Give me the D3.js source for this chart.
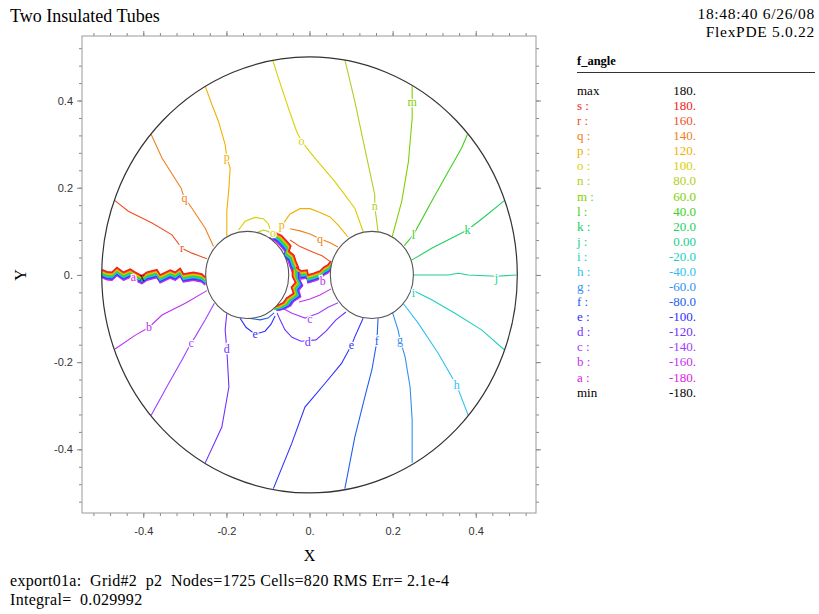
<!DOCTYPE html>
<html lang="en">
<head>
<meta charset="UTF-8">
<title>Two Insulated Tubes</title>
<script src="https://d3js.org/d3.v7.min.js"></script>
<style>
  body { margin: 0; background: #fff; }
  svg { display: block; }
  .serif { font-family: 'Liberation Serif', 'Times New Roman', serif; }
  .tick text { font-family: 'Liberation Sans', Arial, sans-serif; font-size: 11px; fill: #333; }
  .tick line { stroke: #888; }
</style>
</head>
<body>
<svg width="819" height="614"></svg>
<script>
// contour levels of f_angle
const levels = ["a","b","c","d","e","f","g","h","i","j","k","l","m","n","o","p","q","r","s"];
const levelValues = ["-180.","-160.","-140.","-120.","-100.","-80.0","-60.0","-40.0","-20.0","0.00",
                     "20.0","40.0","60.0","80.0","100.","120.","140.","160.","180."];
const levelColors = ["#e020e0","#c030f0","#a040ff","#7030ff","#3030ff","#2060f0","#3090f0","#30c0f0","#20d0c0","#20d090",
                     "#20d060","#40d020","#80d000","#b0d020","#d8d000","#f0b000","#f08020","#f05020","#f02020"];
const maxValue = "180.", minValue = "-180.";

const xTicks = [-0.4, -0.2, 0, 0.2, 0.4];
const xTickLabels = ["-0.4", "-0.2", "0.", "0.2", "0.4"];
const yTicks = [-0.4, -0.2, 0, 0.2, 0.4];
const yTickLabels = ["-0.4", "-0.2", "0.", "0.2", "0.4"];

// geometry
const outerRadius = 0.5;
const tubeCenters = [[-0.15, 0], [0.15, 0]];
const tubeRadius = 0.1;

// contour lines (x, y)
const lineB = [[-0.247,-0.036],[-0.299,-0.065],[-0.355,-0.092],[-0.386,-0.120],[-0.419,-0.138],[-0.468,-0.170]];
const lineC = [[-0.229,-0.065],[-0.251,-0.103],[-0.275,-0.142],[-0.285,-0.156],[-0.307,-0.195],[-0.339,-0.249],[-0.381,-0.322]];
const lineD = [[-0.199,-0.088],[-0.203,-0.126],[-0.199,-0.171],[-0.194,-0.257],[-0.211,-0.349],[-0.251,-0.431]];
const lineE = [[0.129,-0.0995],[0.109,-0.142],[0.101,-0.161],[0.077,-0.203],[0.037,-0.249],[-0.011,-0.303],[-0.043,-0.387],[-0.087,-0.490]];
const lineF = [[0.165,-0.0995],[0.162,-0.153],[0.150,-0.218],[0.133,-0.280],[0.109,-0.372],[0.085,-0.490]];
const lineG = [[0.199,-0.084],[0.213,-0.126],[0.218,-0.149],[0.230,-0.188],[0.242,-0.257],[0.247,-0.333],[0.247,-0.431]];
const lineH = [[0.225,-0.065],[0.262,-0.111],[0.310,-0.180],[0.354,-0.253],[0.382,-0.322]];
const lineI = [[0.246,-0.034],[0.294,-0.057],[0.350,-0.088],[0.414,-0.126],[0.468,-0.171]];
const lineJ = [[0.250,0],[0.334,0],[0.358,0.004],[0.382,0],[0.450,-0.003],[0.498,0]];
const lineK = [[0.246,0.034],[0.294,0.061],[0.366,0.096],[0.380,0.103],[0.422,0.134],[0.468,0.170]];
const lineL = [[0.228,0.067],[0.250,0.092],[0.294,0.169],[0.334,0.237],[0.366,0.291],[0.380,0.322]];
const lineM = [[0.199,0.088],[0.222,0.169],[0.238,0.260],[0.247,0.360],[0.247,0.396],[0.247,0.433]];
const lineN = [[0.165,0.0995],[0.157,0.157],[0.157,0.184],[0.138,0.268],[0.109,0.398],[0.085,0.494]];
const lineO = [[-0.089,0.494],[-0.075,0.452],[-0.051,0.383],[-0.031,0.329],[-0.019,0.306],[-0.003,0.287],[0.013,0.268],[0.061,0.214],[0.109,0.153],[0.129,0.0995]];
const lineP = [[-0.251,0.433],[-0.235,0.391],[-0.219,0.352],[-0.203,0.299],[-0.199,0.270],[-0.191,0.245],[-0.194,0.199],[-0.199,0.146],[-0.199,0.088]];
const lineQ = [[-0.381,0.322],[-0.355,0.268],[-0.309,0.199],[-0.301,0.176],[-0.283,0.153],[-0.251,0.107],[-0.231,0.065]];
const lineR = [[-0.469,0.171],[-0.436,0.146],[-0.379,0.119],[-0.331,0.092],[-0.307,0.061],[-0.283,0.050],[-0.247,0.037]];

// short contours between the tubes
const loopN = [[-0.125,0.098],[-0.111,0.103],[-0.099,0.0995],[-0.0925,0.0935]];
const loopO = [[-0.171,0.103],[-0.155,0.123],[-0.131,0.132],[-0.111,0.129],[-0.099,0.117],[-0.095,0.106]];
const innerP = [[-0.0637,0.117],[-0.0469,0.140],[-0.0228,0.152],[0.0012,0.152],[0.0252,0.143],[0.0493,0.133],[0.0685,0.115],[0.0925,0.087]];
const innerQ = [[-0.0469,0.106],[-0.0228,0.101],[0.0012,0.094],[0.0252,0.083],[0.0493,0.074],[0.0685,0.064]];
const innerR = [[-0.0469,0.080],[-0.0228,0.065],[0.0091,0.052],[0.030,0.044],[0.0493,0.031]];
const innerB = [[-0.0252,-0.062],[0.0012,-0.055],[0.0252,-0.046],[0.0517,-0.032]];
const innerC = [[-0.0661,-0.076],[-0.0421,-0.088],[-0.0108,-0.099],[0.0212,-0.088],[0.0445,-0.074],[0.0685,-0.064]];
const innerD = [[-0.0781,-0.087],[-0.0709,-0.103],[-0.0589,-0.126],[-0.0421,-0.143],[-0.0204,-0.152],[0.0156,-0.149],[0.0397,-0.129],[0.0637,-0.103],[0.0877,-0.085]];
const innerE = [[-0.167,-0.099],[-0.153,-0.120],[-0.131,-0.136],[-0.107,-0.129],[-0.0925,-0.113],[-0.0829,-0.094]];
const innerF = [[-0.143,-0.100],[-0.119,-0.103],[-0.0998,-0.099],[-0.0853,-0.087]];

const contourLines = [
  ["b", lineB], ["c", lineC], ["d", lineD], ["e", lineE], ["f", lineF], ["g", lineG], ["h", lineH],
  ["i", lineI], ["j", lineJ], ["k", lineK], ["l", lineL], ["m", lineM], ["n", lineN], ["o", lineO],
  ["p", lineP], ["q", lineQ], ["r", lineR],
  ["n", loopN], ["o", loopO], ["p", innerP], ["q", innerQ], ["r", innerR],
  ["b", innerB], ["c", innerC], ["d", innerD], ["e", innerE], ["f", innerF]
];

// branch cut where all levels crowd together (centre lines)
const bandLeft = [[-0.505,0.003],[-0.4995,0.003],[-0.4875,-0.002],[-0.4755,-0.003],[-0.4635,0.008],[-0.4476,-0.003],[-0.4315,0.004],[-0.4195,-0.003],
  [-0.4034,-0.011],[-0.3913,-0.003],[-0.3673,0.003],[-0.3594,-0.009],[-0.3353,0.002],[-0.3233,-0.003],[-0.3113,0.006],
  [-0.3034,-0.007],[-0.2793,-0.003],[-0.2591,-0.007],[-0.2512,-0.014]];
const bandUpper = [[-0.0901,0.092],[-0.0733,0.083],[-0.0613,0.071],[-0.0517,0.060],[-0.0565,0.048],[-0.0445,0.039],[-0.0397,0.025],[-0.0325,0.009]];
const bandMid = [[-0.0325,0.009],[-0.0204,0.000],[-0.0060,0.002],[-0.0036,-0.009],[0.0108,-0.005],[0.0252,0.000],[0.0349,0.009],[0.0445,0.014],[0.0517,0.023]];
const bandLower = [[-0.0325,0.009],[-0.0325,-0.007],[-0.0252,-0.021],[-0.0349,-0.032],[-0.0300,-0.046],[-0.0469,-0.057],[-0.0541,-0.067],[-0.0685,-0.074],[-0.0853,-0.078]];

// contour labels (level, x, y)
const contourLabels = [
  ["b",-0.386,-0.120], ["c",-0.285,-0.156], ["d",-0.199,-0.171], ["e",-0.131,-0.136],
  ["e",0.101,-0.161], ["f",0.162,-0.153], ["g",0.218,-0.149], ["h",0.354,-0.253],
  ["i",0.250,-0.042], ["j",0.450,-0.008], ["k",0.380,0.103], ["l",0.250,0.092],
  ["m",0.247,0.396], ["n",0.157,0.157], ["o",-0.019,0.306], ["p",-0.199,0.270],
  ["q",-0.301,0.176], ["r",-0.307,0.061],
  ["o",-0.088,0.096], ["p",-0.067,0.115], ["q",0.025,0.083], ["b",0.032,-0.014],
  ["c",0.001,-0.101], ["d",-0.004,-0.154], ["a",-0.424,-0.005]
];
const extremeMark = [-0.403, -0.005];

const svg = d3.select("svg");
const plotL = 82, plotR = 536, plotT = 36, plotB = 513;

const x = d3.scaleLinear().domain([-0.5475, 0.545]).range([plotL, plotR]);
const y = d3.scaleLinear().domain([-0.546, 0.548]).range([plotB, plotT]);
const colorOf = lv => levelColors[levels.indexOf(lv)];

// titles
svg.append("text").attr("class", "serif").attr("x", 10).attr("y", 22)
  .style("font-size", "18px").text("Two Insulated Tubes");
svg.append("text").attr("class", "serif").attr("x", 815).attr("y", 19).attr("text-anchor", "end")
  .style("font-size", "15.5px").style("letter-spacing", "0.7px").text("18:48:40 6/26/08");
svg.append("text").attr("class", "serif").attr("x", 815).attr("y", 37).attr("text-anchor", "end")
  .style("font-size", "15.5px").style("letter-spacing", "0.7px").text("FlexPDE 5.0.22");

// axes with minor ticks
const minorTicks = d3.range(-0.52, 0.53, 0.04).map(v => +v.toFixed(2));
function addAxis(axisFn, scale, tr, vals, fmt, size) {
  const g = svg.append("g").attr("transform", tr)
    .call(axisFn(scale).tickValues(vals).tickFormat(fmt).tickSize(size).tickSizeOuter(0).tickPadding(4));
  g.select(".domain").remove();
  return g;
}
addAxis(d3.axisBottom, x, `translate(0,${plotB})`, minorTicks, "", 3);
addAxis(d3.axisTop, x, `translate(0,${plotT})`, minorTicks, "", 3);
addAxis(d3.axisLeft, y, `translate(${plotL},0)`, minorTicks, "", 3);
addAxis(d3.axisRight, y, `translate(${plotR},0)`, minorTicks, "", 3);
addAxis(d3.axisBottom, x, `translate(0,${plotB})`, xTicks, (d, i) => xTickLabels[i], 5)
  .selectAll("text").attr("dy", "1.2em");
addAxis(d3.axisTop, x, `translate(0,${plotT})`, xTicks, "", 5);
addAxis(d3.axisLeft, y, `translate(${plotL},0)`, yTicks, (d, i) => yTickLabels[i], 5);
addAxis(d3.axisRight, y, `translate(${plotR},0)`, yTicks, "", 5);

svg.append("rect").attr("x", plotL).attr("y", plotT).attr("width", plotR - plotL).attr("height", plotB - plotT)
  .attr("fill", "none").attr("stroke", "#999");

svg.append("text").attr("class", "serif").attr("x", x(0)).attr("y", 561).attr("text-anchor", "middle")
  .style("font-size", "16px").text("X");
svg.append("text").attr("class", "serif").attr("transform", `translate(26,${y(0)}) rotate(-90)`)
  .attr("text-anchor", "middle").style("font-size", "16px").text("Y");

// plot contents, clipped to the outer boundary
svg.append("clipPath").attr("id", "domainClip").append("ellipse")
  .attr("cx", x(0)).attr("cy", y(0))
  .attr("rx", x(outerRadius) - x(0)).attr("ry", y(0) - y(outerRadius));

const plot = svg.append("g").attr("clip-path", "url(#domainClip)");
const line = d3.line().x(d => x(d[0])).y(d => y(d[1]));

plot.selectAll("path.contour").data(contourLines).join("path")
  .attr("class", "contour")
  .attr("d", d => line(d[1]))
  .attr("fill", "none")
  .attr("stroke", d => colorOf(d[0]))
  .attr("stroke-width", 1.1);

// crowded levels along the branch cut: each level nudged a fraction of a pixel
const bands = [[bandLeft, [0, -1]], [bandUpper, [0.7, -0.7]], [bandMid, [0, -1]], [bandLower, [-0.9, -0.4]]];
bands.forEach(([pts, dir]) => {
  levels.forEach((lv, i) => {
    const k = (i - 9) * 0.45;
    plot.append("path")
      .attr("d", line(pts))
      .attr("transform", `translate(${dir[0] * k},${dir[1] * k})`)
      .attr("fill", "none")
      .attr("stroke", levelColors[i])
      .attr("stroke-width", 1.4)
      .attr("stroke-linejoin", "miter");
  });
});

// boundaries
svg.append("ellipse")
  .attr("cx", x(0)).attr("cy", y(0))
  .attr("rx", x(outerRadius) - x(0)).attr("ry", y(0) - y(outerRadius))
  .attr("fill", "none").attr("stroke", "#333").attr("stroke-width", 1.2);
svg.selectAll("ellipse.tube").data(tubeCenters).join("ellipse")
  .attr("class", "tube")
  .attr("cx", d => x(d[0])).attr("cy", d => y(d[1]))
  .attr("rx", x(tubeRadius) - x(0)).attr("ry", y(0) - y(tubeRadius))
  .attr("fill", "#fff").attr("stroke", "#555").attr("stroke-width", 1.1);

// labels on the contours
svg.selectAll("text.clabel").data(contourLabels).join("text")
  .attr("class", "clabel serif")
  .attr("x", d => x(d[1])).attr("y", d => y(d[2]))
  .attr("dy", "0.32em")
  .attr("text-anchor", "middle")
  .style("font-size", "12px")
  .style("paint-order", "stroke")
  .attr("stroke", "#fff").attr("stroke-width", 2.5)
  .attr("fill", d => colorOf(d[0]))
  .text(d => d[0]);
svg.append("text").attr("class", "serif")
  .attr("x", x(extremeMark[0])).attr("y", y(extremeMark[1])).attr("dy", "0.32em")
  .attr("text-anchor", "middle").style("font-size", "12px").attr("fill", "#222").text("x");

// legend
const legX = 577, legValX = 696, legTop = 95, legStep = 15.08;
svg.append("text").attr("class", "serif").attr("x", legX).attr("y", 65)
  .style("font-size", "12.5px").style("font-weight", "bold").text("f_angle");
svg.append("line").attr("x1", legX).attr("x2", 815).attr("y1", 72.5).attr("y2", 72.5)
  .attr("stroke", "#333");

const legendRows = [{ name: "max", value: maxValue, color: "#000" }]
  .concat(levels.map((lv, i) => ({ name: lv + " :", value: levelValues[i], color: levelColors[i] })).reverse())
  .concat([{ name: "min", value: minValue, color: "#000" }]);

const rows = svg.selectAll("g.legrow").data(legendRows).join("g")
  .attr("class", "legrow serif")
  .attr("transform", (d, i) => `translate(0,${legTop + i * legStep})`)
  .style("font-size", "13px");
rows.append("text").attr("x", legX).attr("fill", d => d.color).text(d => d.name);
rows.append("text").attr("x", legValX).attr("text-anchor", "end").attr("fill", d => d.color).text(d => d.value);

// footer (non-breaking spaces keep the double gaps)
const nb = "\u00a0";
svg.append("text").attr("class", "serif").attr("x", 10).attr("y", 586).style("font-size", "16px")
  .style("letter-spacing", "0.3px")
  .text(`export01a:${nb}${nb}Grid#2${nb}${nb}p2${nb}${nb}Nodes=1725 Cells=820 RMS Err=${nb}2.1e-4`);
svg.append("text").attr("class", "serif").attr("x", 10).attr("y", 605).style("font-size", "16px")
  .style("letter-spacing", "0.3px")
  .text(`Integral=${nb}${nb}0.029992`);
</script>
</body>
</html>
